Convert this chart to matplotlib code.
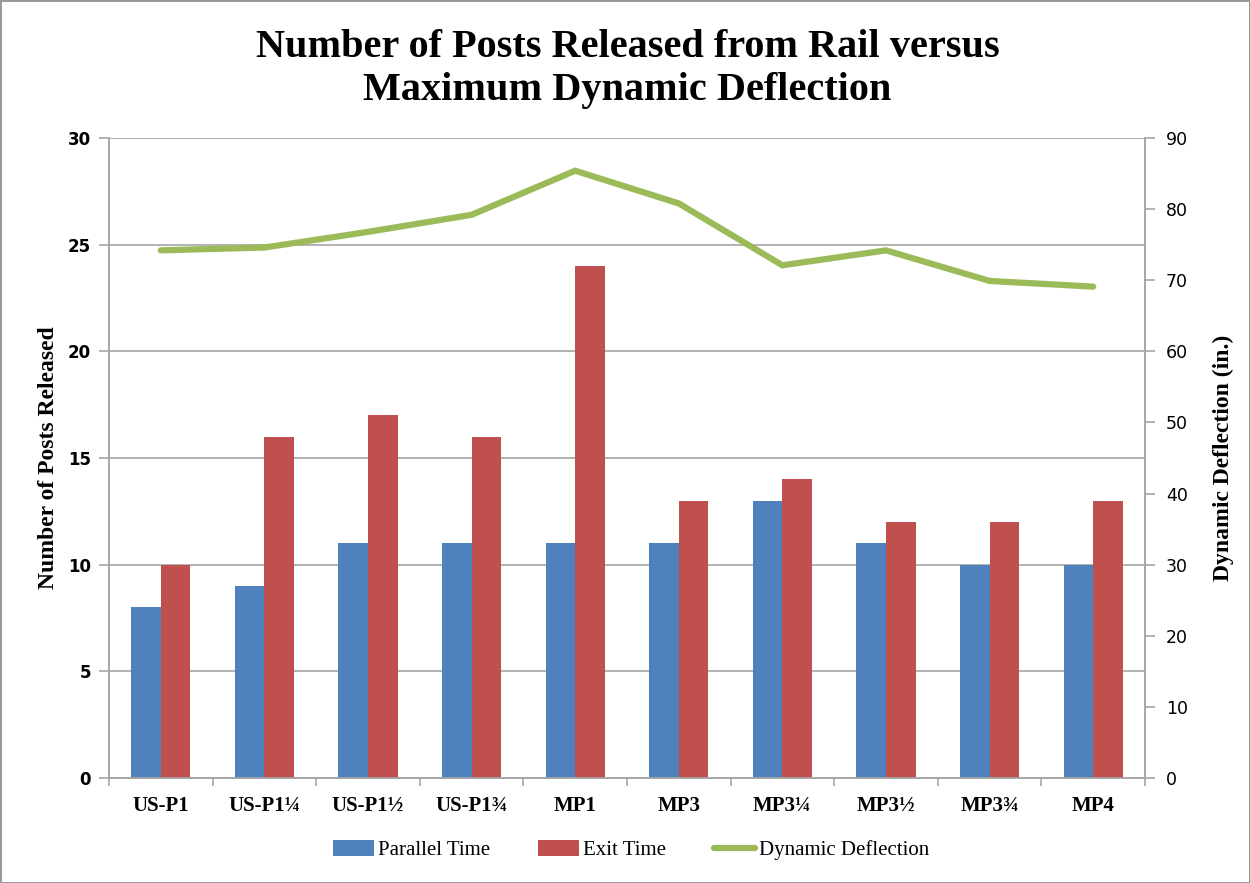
import numpy as np
import matplotlib
matplotlib.use("Agg")
import matplotlib.pyplot as plt
from matplotlib.patches import Patch
from matplotlib.lines import Line2D

categories = ["US-P1", "US-P1¼", "US-P1½", "US-P1¾", "MP1",
              "MP3", "MP3¼", "MP3½", "MP3¾", "MP4"]
parallel_time = [8, 9, 11, 11, 11, 11, 13, 11, 10, 10]
exit_time = [10, 16, 17, 16, 24, 13, 14, 12, 12, 13]
dynamic_deflection = [74.2, 74.6, 76.8, 79.2, 85.4, 80.8, 72.1, 74.2, 69.9, 69.1]

left_ticks = [0, 5, 10, 15, 20, 25, 30]
right_ticks = [0, 10, 20, 30, 40, 50, 60, 70, 80, 90]

blue = "#4F81BD"
red = "#C0504D"
green = "#9BBB59"
grid_grey = "#A6A6A6"
serif = "Liberation Serif"

fig = plt.figure(figsize=(12.5, 8.83), dpi=100)
fig.patch.set_facecolor("white")
fig.patch.set_edgecolor("#9A9A9A")
fig.patch.set_linewidth(2)

ax = fig.add_axes([0.0872, 0.1189, 0.8288, 0.7248])
x = np.arange(len(categories))
w = 1 / 3.5

ax.bar(x - w / 2, parallel_time, width=w, color=blue, zorder=3)
ax.bar(x + w / 2, exit_time, width=w, color=red, zorder=3)

ax.set_xlim(-0.5, len(categories) - 0.5)
ax.set_ylim(0, 30)
ax.set_yticks(left_ticks)
ax.set_yticklabels([str(t) for t in left_ticks], fontsize=12, fontweight="bold",
                   family="DejaVu Sans")
ax.yaxis.grid(True, color=grid_grey, linewidth=1.2, zorder=0)
ax.set_axisbelow(True)

ax.set_xticks(x)
ax.set_xticklabels(categories, family=serif, fontweight="bold", fontsize=15)
ax.set_xticks(np.arange(-0.5, len(categories)), minor=True)
ax.tick_params(axis="x", which="major", length=0, pad=13)
ax.tick_params(axis="x", which="minor", length=6, color=grid_grey, width=1.2)
ax.tick_params(axis="y", length=7, color=grid_grey, width=1.2, pad=6)

ax.spines["top"].set_visible(False)
for side in ["left", "bottom", "right"]:
    ax.spines[side].set_color(grid_grey)
    ax.spines[side].set_linewidth(1.2)

ax.set_ylabel("Number of Posts Released", family=serif, fontweight="bold",
              fontsize=17, labelpad=6)

ax2 = ax.twinx()
ax2.plot(x, dynamic_deflection, color=green, linewidth=4.5,
         solid_capstyle="round", solid_joinstyle="miter", zorder=4)
ax2.set_ylim(0, 90)
ax2.set_yticks(right_ticks)
ax2.set_yticklabels([str(t) for t in right_ticks], fontsize=12.5,
                    family="DejaVu Sans")
ax2.tick_params(axis="y", length=7, color=grid_grey, width=1.2, pad=8)
ax2.spines["top"].set_visible(False)
for side in ["left", "bottom", "right"]:
    ax2.spines[side].set_color(grid_grey)
    ax2.spines[side].set_linewidth(1.2)
ax2.set_ylabel("Dynamic Deflection (in.)", family=serif, fontweight="bold",
               fontsize=17, labelpad=18)

fig.text(0.502, 0.946, "Number of Posts Released from Rail versus",
         ha="center", va="center", family=serif, fontweight="bold", fontsize=29)
fig.text(0.502, 0.898, "Maximum Dynamic Deflection",
         ha="center", va="center", family=serif, fontweight="bold", fontsize=29)

handles = [
    Patch(facecolor=blue, edgecolor="none"),
    Patch(facecolor=red, edgecolor="none"),
    Line2D([0], [0], color=green, linewidth=4.5, solid_capstyle="round"),
]
labels = ["Parallel Time", "Exit Time", "Dynamic Deflection"]
fig.legend(handles, labels, loc="center", bbox_to_anchor=(0.505, 0.037),
           ncol=3, frameon=False, prop={"family": serif, "size": 15},
           handlelength=1.95, handleheight=0.75, handletextpad=0.2,
           columnspacing=2.3)

fig.savefig("out.png", dpi=100, facecolor=fig.get_facecolor(),
            edgecolor=fig.get_edgecolor())
